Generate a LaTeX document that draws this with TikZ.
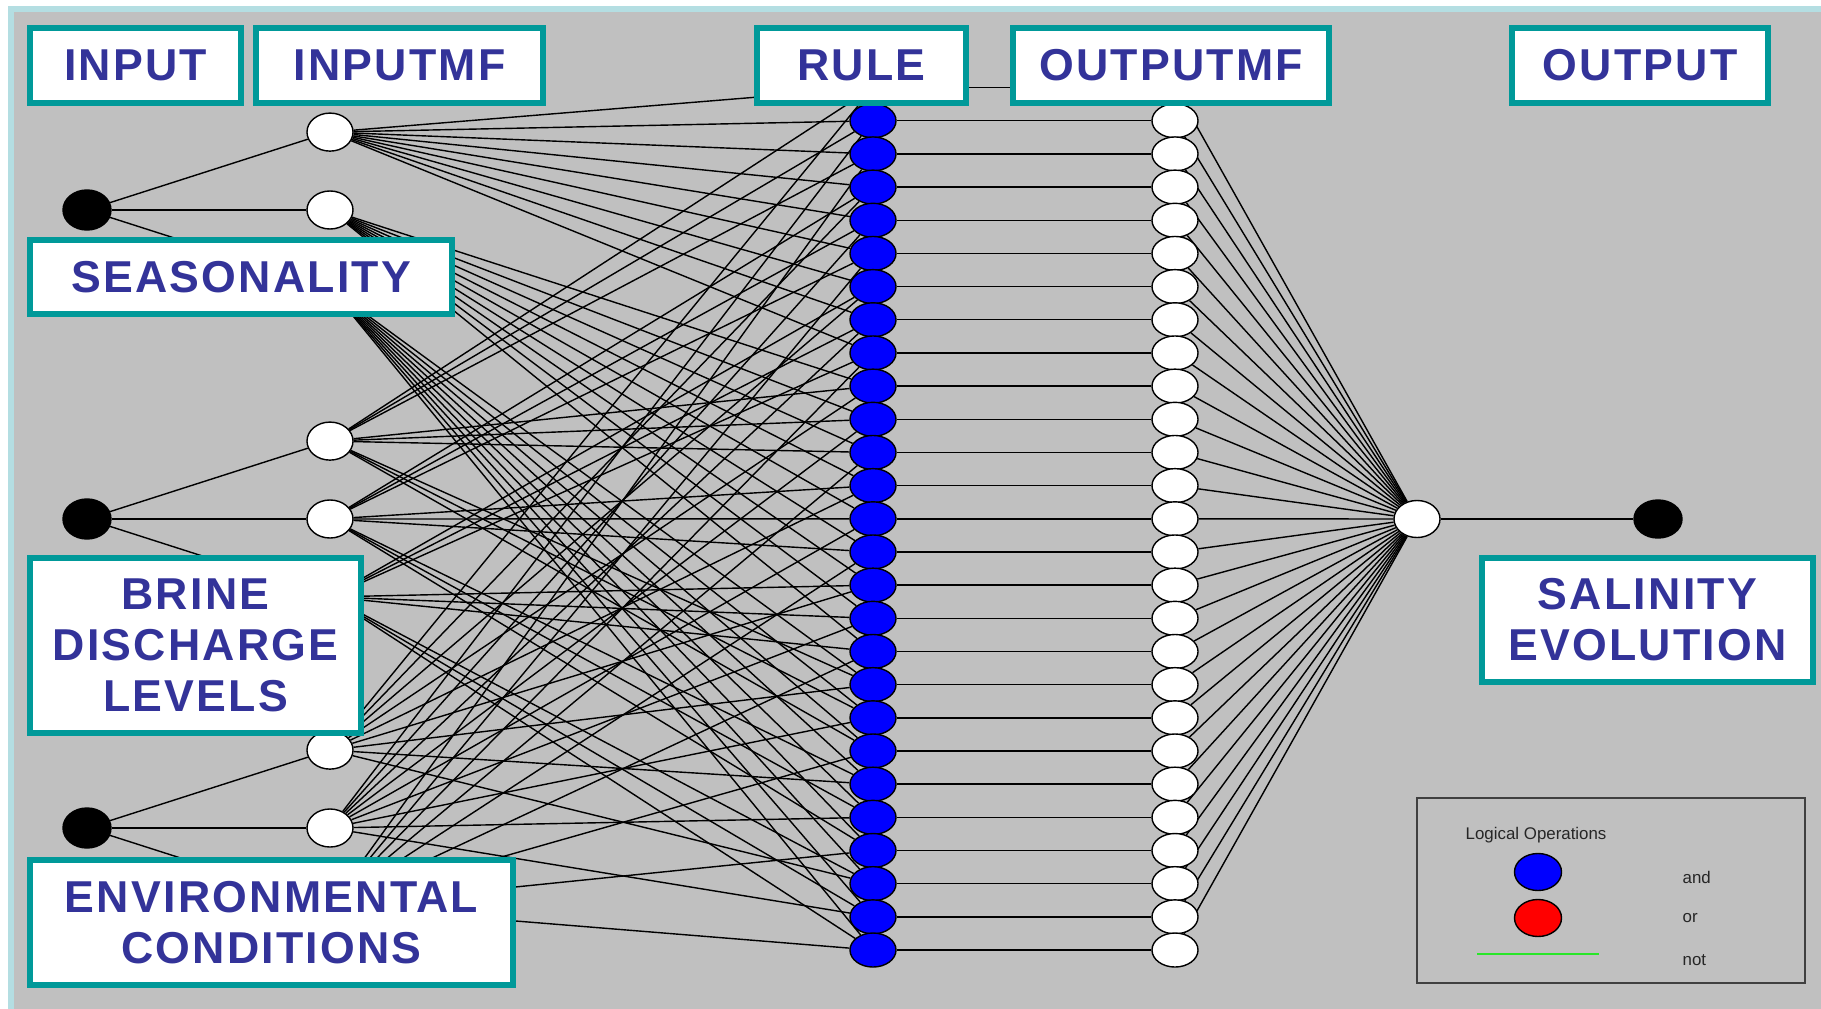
\documentclass[tikz,border=0pt]{standalone}
\usepackage{fontspec}
\setmainfont{Liberation Sans}
\newfontfamily\boxfont[LetterSpace=5]{Liberation Sans}
\usetikzlibrary{shapes.geometric}
\definecolor{panelgray}{RGB}{192,192,192}
\definecolor{framecyan}{RGB}{180,222,226}
\definecolor{boxteal}{RGB}{0,153,153}
\definecolor{boxtext}{RGB}{51,51,153}
\definecolor{legendgreen}{RGB}{40,230,40}
\pgfdeclarelayer{bg}
\pgfdeclarelayer{edges}
\pgfsetlayers{bg,edges,main}
\begin{document}
\begin{tikzpicture}[x=0.01cm, y=-0.01cm, line width=0.35pt,
  knot/.style={ellipse, draw=black, line width=0.4pt, inner sep=0pt,
    minimum width=0.46cm, minimum height=0.34cm},
  innode/.style={knot, fill=black, minimum width=0.48cm, minimum height=0.40cm},
  mfnode/.style={knot, fill=white, minimum height=0.38cm},
  rulenode/.style={knot, fill=blue},
  omfnode/.style={knot, fill=white},
  labelbox/.style={draw=boxteal, line width=1.7pt, fill=white, text=boxtext,
    font=\boxfont\bfseries\fontsize{12.7}{14.5}\selectfont, align=center, inner sep=0pt},
  legtext/.style={font=\fontsize{4.8}{5.8}\selectfont, text=black!85, inner sep=0pt}]
\def\xin{87}
\def\xmf{330}
\def\xrule{873}
\def\xomf{1175}
\def\dr{33.17}
\useasboundingbox (0,0) rectangle (1821,1009);
% Hintergrund
\begin{pgfonlayer}{bg}
\fill[white] (0,0) rectangle (1821,1009);
\fill[framecyan] (8,6) rectangle (1821,1009);
\fill[panelgray] (14,12) rectangle (1821,1009);
\end{pgfonlayer}
% Eingaenge und Zugehoerigkeitsfunktionen
\foreach \i in {1,2,3} {
  \node[innode] (in\i) at (\xin, {210+309*(\i-1)}) {};
  \foreach \j in {1,2,3}
    \node[mfnode] (mf\i\j) at (\xmf, {210+309*(\i-1)+77.9*(\j-2)}) {};
}
% Regeln und Ausgangs-MFs
\foreach \k in {1,...,27} {
  \node[rulenode] (rule\k) at (\xrule, {87.6+\dr*(\k-1)}) {};
  \node[omfnode] (omf\k) at (\xomf, {87.6+\dr*(\k-1)}) {};
}
\node[knot, fill=white, minimum height=0.37cm] (sum) at (1417,519) {};
\node[innode, minimum height=0.38cm] (out) at (1658,519) {};
% Verbindungen
\begin{pgfonlayer}{edges}
\foreach \i in {1,2,3}
  \foreach \j in {1,2,3}
    \draw (in\i) -- (mf\i\j);
\foreach \k in {1,...,27} {
  \pgfmathtruncatemacro\ma{div(\k-1,9)+1}
  \pgfmathtruncatemacro\mb{mod(div(\k-1,3),3)+1}
  \pgfmathtruncatemacro\mc{mod(\k-1,3)+1}
  \draw (mf1\ma) -- (rule\k);
  \draw (mf2\mb) -- (rule\k);
  \draw (mf3\mc) -- (rule\k);
  \draw (rule\k) -- (omf\k);
  \draw (omf\k) -- (sum);
}
\draw (sum) -- (out);
\end{pgfonlayer}
% Beschriftungen
\node[labelbox, minimum width=2.11cm, minimum height=0.75cm] (tInput) at (135.5,65.5) {INPUT};
\node[labelbox, minimum width=2.87cm, minimum height=0.75cm] (tInputMF) at (399.5,65.5) {INPUTMF};
\node[labelbox, minimum width=2.09cm, minimum height=0.75cm] (tRule) at (861.5,65.5) {RULE};
\node[labelbox, minimum width=3.16cm, minimum height=0.75cm] (tOutputMF) at (1171,65.5) {OUTPUTMF};
\node[labelbox, minimum width=2.56cm, minimum height=0.75cm] (tOutput) at (1640,65.5) {OUTPUT};
\node[labelbox, minimum width=4.22cm, minimum height=0.73cm] (tSeason) at (241,277) {SEASONALITY};
\node[labelbox, minimum width=3.31cm, minimum height=1.75cm] (tBrine) at (195.5,645.5) {BRINE\\DISCHARGE\\LEVELS};
\node[labelbox, minimum width=4.83cm, minimum height=1.25cm] (tEnv) at (271.5,922.5) {ENVIRONMENTAL\\CONDITIONS};
\node[labelbox, minimum width=3.31cm, minimum height=1.24cm] (tSalinity) at (1647.5,620) {SALINITY\\EVOLUTION};
% Legende
\node[draw=black!75, line width=0.5pt, minimum width=3.88cm, minimum height=1.85cm] (legend) at (1611,890.5) {};
\node[legtext, anchor=west] (legTitle) at (1465,835) {Logical Operations};
\node[knot, fill=blue, minimum width=0.47cm, minimum height=0.37cm] (legAnd) at (1538,872) {};
\node[knot, fill=red, minimum width=0.47cm, minimum height=0.37cm] (legOr) at (1538,918) {};
\coordinate (notA) at (1477,954);
\coordinate (notB) at (1599,954);
\draw[legendgreen, line width=0.7pt] (notA) -- (notB);
\node[legtext, anchor=west] (legAndTxt) at (1682,877) {and};
\node[legtext, anchor=west] (legOrTxt) at (1682,918) {or};
\node[legtext, anchor=west] (legNotTxt) at (1682,960) {not};
\end{tikzpicture}
\end{document}
